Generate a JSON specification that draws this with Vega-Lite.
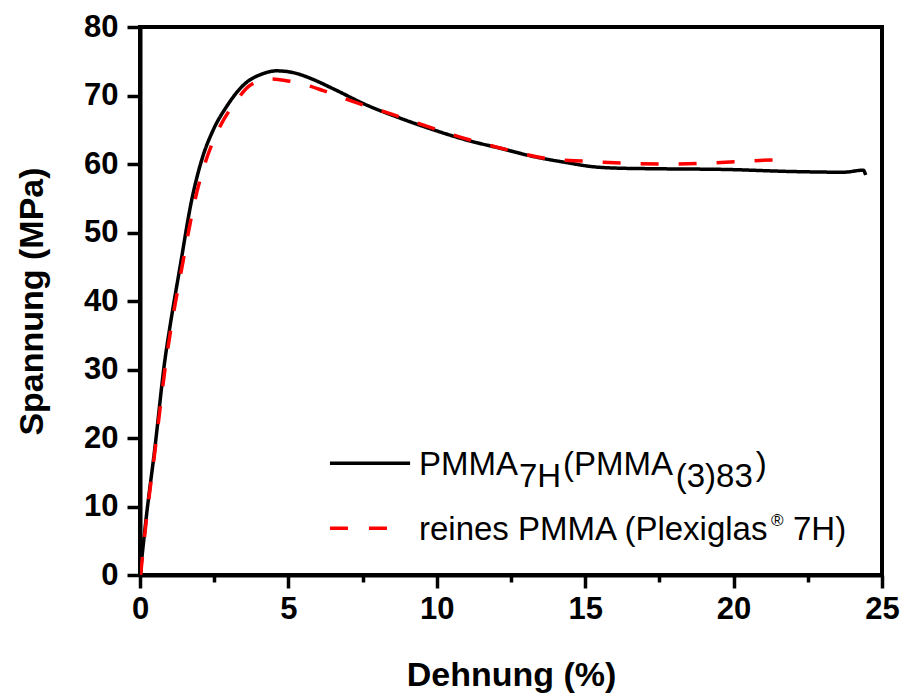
{
  "$schema": "https://vega.github.io/schema/vega-lite/v6.json",
  "width": 742,
  "height": 548,
  "autosize": {"type": "none"},
  "padding": {"left": 140, "top": 27, "right": 18, "bottom": 118},
  "background": "white",
  "config": {
    "view": {"stroke": "black", "strokeWidth": 4},
    "font": "Arial",
    "axis": {
      "grid": false,
      "domainColor": "black",
      "domainWidth": 4,
      "tickColor": "black",
      "tickWidth": 3.5,
      "labelColor": "black",
      "titleColor": "black",
      "labelFont": "Arial",
      "titleFont": "Arial",
      "labelFontSize": 31,
      "labelFontWeight": "bold",
      "titleFontSize": 34,
      "titleFontWeight": "bold",
      "labelFlush": false,
      "labelOverlap": false
    }
  },
  "datasets": {
    "curves": [
      {"series": "PMMA7H(PMMA(3)83)", "strain": 0, "stress": 0},
      {"series": "PMMA7H(PMMA(3)83)", "strain": 0.1, "stress": 4},
      {"series": "PMMA7H(PMMA(3)83)", "strain": 0.2, "stress": 8},
      {"series": "PMMA7H(PMMA(3)83)", "strain": 0.5, "stress": 18.5},
      {"series": "PMMA7H(PMMA(3)83)", "strain": 0.84, "stress": 31.4},
      {"series": "PMMA7H(PMMA(3)83)", "strain": 1.0, "stress": 36},
      {"series": "PMMA7H(PMMA(3)83)", "strain": 1.35, "stress": 45},
      {"series": "PMMA7H(PMMA(3)83)", "strain": 1.74, "stress": 54.7},
      {"series": "PMMA7H(PMMA(3)83)", "strain": 2.08, "stress": 60.6},
      {"series": "PMMA7H(PMMA(3)83)", "strain": 2.47, "stress": 65},
      {"series": "PMMA7H(PMMA(3)83)", "strain": 2.92, "stress": 68.4},
      {"series": "PMMA7H(PMMA(3)83)", "strain": 3.48, "stress": 71.5},
      {"series": "PMMA7H(PMMA(3)83)", "strain": 4.15, "stress": 73.2},
      {"series": "PMMA7H(PMMA(3)83)", "strain": 4.6, "stress": 73.6},
      {"series": "PMMA7H(PMMA(3)83)", "strain": 5.2, "stress": 73.3},
      {"series": "PMMA7H(PMMA(3)83)", "strain": 5.8, "stress": 72.4},
      {"series": "PMMA7H(PMMA(3)83)", "strain": 6.5, "stress": 71.0},
      {"series": "PMMA7H(PMMA(3)83)", "strain": 7.64, "stress": 68.6},
      {"series": "PMMA7H(PMMA(3)83)", "strain": 8.76, "stress": 66.7},
      {"series": "PMMA7H(PMMA(3)83)", "strain": 9.88, "stress": 65.0},
      {"series": "PMMA7H(PMMA(3)83)", "strain": 11.0, "stress": 63.5},
      {"series": "PMMA7H(PMMA(3)83)", "strain": 12.13, "stress": 62.3},
      {"series": "PMMA7H(PMMA(3)83)", "strain": 13.25, "stress": 61.1},
      {"series": "PMMA7H(PMMA(3)83)", "strain": 14.38, "stress": 60.2},
      {"series": "PMMA7H(PMMA(3)83)", "strain": 15.27, "stress": 59.6},
      {"series": "PMMA7H(PMMA(3)83)", "strain": 16.06, "stress": 59.4},
      {"series": "PMMA7H(PMMA(3)83)", "strain": 17.52, "stress": 59.3},
      {"series": "PMMA7H(PMMA(3)83)", "strain": 19.77, "stress": 59.2},
      {"series": "PMMA7H(PMMA(3)83)", "strain": 22.0, "stress": 58.9},
      {"series": "PMMA7H(PMMA(3)83)", "strain": 23.7, "stress": 58.8},
      {"series": "PMMA7H(PMMA(3)83)", "strain": 24.37, "stress": 59.1},
      {"series": "PMMA7H(PMMA(3)83)", "strain": 24.45, "stress": 58.4},
      {"series": "reines PMMA (Plexiglas® 7H)", "strain": 0.02, "stress": 0},
      {"series": "reines PMMA (Plexiglas® 7H)", "strain": 0.2, "stress": 7.5},
      {"series": "reines PMMA (Plexiglas® 7H)", "strain": 0.5, "stress": 18},
      {"series": "reines PMMA (Plexiglas® 7H)", "strain": 0.9, "stress": 31.9},
      {"series": "reines PMMA (Plexiglas® 7H)", "strain": 1.46, "stress": 46},
      {"series": "reines PMMA (Plexiglas® 7H)", "strain": 1.85, "stress": 54.7},
      {"series": "reines PMMA (Plexiglas® 7H)", "strain": 2.19, "stress": 60.1},
      {"series": "reines PMMA (Plexiglas® 7H)", "strain": 2.64, "stress": 65},
      {"series": "reines PMMA (Plexiglas® 7H)", "strain": 3.26, "stress": 69.3},
      {"series": "reines PMMA (Plexiglas® 7H)", "strain": 3.71, "stress": 71.5},
      {"series": "reines PMMA (Plexiglas® 7H)", "strain": 4.38, "stress": 72.4},
      {"series": "reines PMMA (Plexiglas® 7H)", "strain": 4.89, "stress": 72.2},
      {"series": "reines PMMA (Plexiglas® 7H)", "strain": 5.62, "stress": 71.5},
      {"series": "reines PMMA (Plexiglas® 7H)", "strain": 6.18, "stress": 70.7},
      {"series": "reines PMMA (Plexiglas® 7H)", "strain": 7.19, "stress": 69.1},
      {"series": "reines PMMA (Plexiglas® 7H)", "strain": 8.53, "stress": 67.2},
      {"series": "reines PMMA (Plexiglas® 7H)", "strain": 9.88, "stress": 65.2},
      {"series": "reines PMMA (Plexiglas® 7H)", "strain": 11.12, "stress": 63.5},
      {"series": "reines PMMA (Plexiglas® 7H)", "strain": 12.35, "stress": 62.1},
      {"series": "reines PMMA (Plexiglas® 7H)", "strain": 13.7, "stress": 60.8},
      {"series": "reines PMMA (Plexiglas® 7H)", "strain": 15.0, "stress": 60.4},
      {"series": "reines PMMA (Plexiglas® 7H)", "strain": 16.38, "stress": 60.1},
      {"series": "reines PMMA (Plexiglas® 7H)", "strain": 17.63, "stress": 60.0},
      {"series": "reines PMMA (Plexiglas® 7H)", "strain": 18.98, "stress": 60.1},
      {"series": "reines PMMA (Plexiglas® 7H)", "strain": 20.3, "stress": 60.4},
      {"series": "reines PMMA (Plexiglas® 7H)", "strain": 21.45, "stress": 60.6},
      {"series": "reines PMMA (Plexiglas® 7H)", "strain": 21.55, "stress": 60.2}
    ],
    "one": [{}]
  },
  "layer": [
    {
      "data": {"name": "curves"},
      "mark": {"type": "line", "interpolate": "monotone", "strokeWidth": 3.5, "strokeCap": "butt", "clip": true},
      "encoding": {
        "x": {
          "field": "strain", "type": "quantitative",
          "scale": {"domain": [0, 25], "nice": false, "zero": false},
          "axis": {
            "title": "Dehnung (%)",
            "values": [0, 2.5, 5, 7.5, 10, 12.5, 15, 17.5, 20, 22.5, 25],
            "labelExpr": "datum.value % 5 === 0 ? datum.label : ''",
            "tickSize": {"condition": {"test": "datum.value % 5 === 0", "value": 13}, "value": 7},
            "labelPadding": 6,
            "titlePadding": 34
          }
        },
        "y": {
          "field": "stress", "type": "quantitative",
          "scale": {"domain": [0, 80], "nice": false},
          "axis": {
            "title": "Spannung (MPa)",
            "values": [0, 5, 10, 15, 20, 25, 30, 35, 40, 45, 50, 55, 60, 65, 70, 75, 80],
            "labelExpr": "datum.value % 10 === 0 ? datum.label : ''",
            "tickSize": {"condition": {"test": "datum.value % 10 === 0", "value": 13}, "value": 7},
            "labelPadding": 9,
            "titlePadding": 34
          }
        },
        "color": {
          "field": "series", "type": "nominal",
          "scale": {"domain": ["PMMA7H(PMMA(3)83)", "reines PMMA (Plexiglas® 7H)"], "range": ["black", "#ff0000"]},
          "legend": null
        },
        "strokeDash": {
          "field": "series", "type": "nominal",
          "scale": {"domain": ["PMMA7H(PMMA(3)83)", "reines PMMA (Plexiglas® 7H)"], "range": [[1, 0], [18, 20]]},
          "legend": null
        }
      }
    },
    {
      "data": {"name": "one"},
      "mark": {"type": "rule", "color": "black", "strokeWidth": 3.5, "strokeCap": "butt"},
      "encoding": {"x": {"datum": 6.4}, "x2": {"datum": 9.1}, "y": {"datum": 16.3}}
    },
    {
      "data": {"name": "one"},
      "mark": {"type": "rule", "color": "#ff0000", "strokeWidth": 3.5, "strokeCap": "butt", "strokeDash": [18, 21]},
      "encoding": {"x": {"datum": 6.4}, "x2": {"datum": 8.36}, "y": {"datum": 6.82}}
    },
    {
      "data": {"name": "one"},
      "mark": {"type": "text", "align": "left", "baseline": "alphabetic", "fontSize": 33, "font": "Arial", "color": "black"},
      "encoding": {"x": {"datum": 9.4}, "y": {"datum": 14.6}, "text": {"value": "PMMA"}}
    },
    {
      "data": {"name": "one"},
      "mark": {"type": "text", "align": "left", "baseline": "alphabetic", "fontSize": 33, "font": "Arial", "color": "black"},
      "encoding": {"x": {"datum": 12.77}, "y": {"datum": 12.85}, "text": {"value": "7H"}}
    },
    {
      "data": {"name": "one"},
      "mark": {"type": "text", "align": "left", "baseline": "alphabetic", "fontSize": 33, "font": "Arial", "color": "black"},
      "encoding": {"x": {"datum": 14.25}, "y": {"datum": 14.6}, "text": {"value": "(PMMA"}}
    },
    {
      "data": {"name": "one"},
      "mark": {"type": "text", "align": "left", "baseline": "alphabetic", "fontSize": 33, "font": "Arial", "color": "black"},
      "encoding": {"x": {"datum": 18.05}, "y": {"datum": 12.85}, "text": {"value": "(3)83"}}
    },
    {
      "data": {"name": "one"},
      "mark": {"type": "text", "align": "left", "baseline": "alphabetic", "fontSize": 33, "font": "Arial", "color": "black"},
      "encoding": {"x": {"datum": 20.75}, "y": {"datum": 14.6}, "text": {"value": ")"}}
    },
    {
      "data": {"name": "one"},
      "mark": {"type": "text", "align": "left", "baseline": "alphabetic", "fontSize": 33, "font": "Arial", "color": "black"},
      "encoding": {"x": {"datum": 9.4}, "y": {"datum": 5.11}, "text": {"value": "reines PMMA (Plexiglas"}}
    },
    {
      "data": {"name": "one"},
      "mark": {"type": "text", "align": "left", "baseline": "alphabetic", "fontSize": 17, "font": "Arial", "color": "black"},
      "encoding": {"x": {"datum": 21.26}, "y": {"datum": 7.15}, "text": {"value": "®"}}
    },
    {
      "data": {"name": "one"},
      "mark": {"type": "text", "align": "left", "baseline": "alphabetic", "fontSize": 33, "font": "Arial", "color": "black"},
      "encoding": {"x": {"datum": 22.0}, "y": {"datum": 5.11}, "text": {"value": "7H)"}}
    }
  ]
}
